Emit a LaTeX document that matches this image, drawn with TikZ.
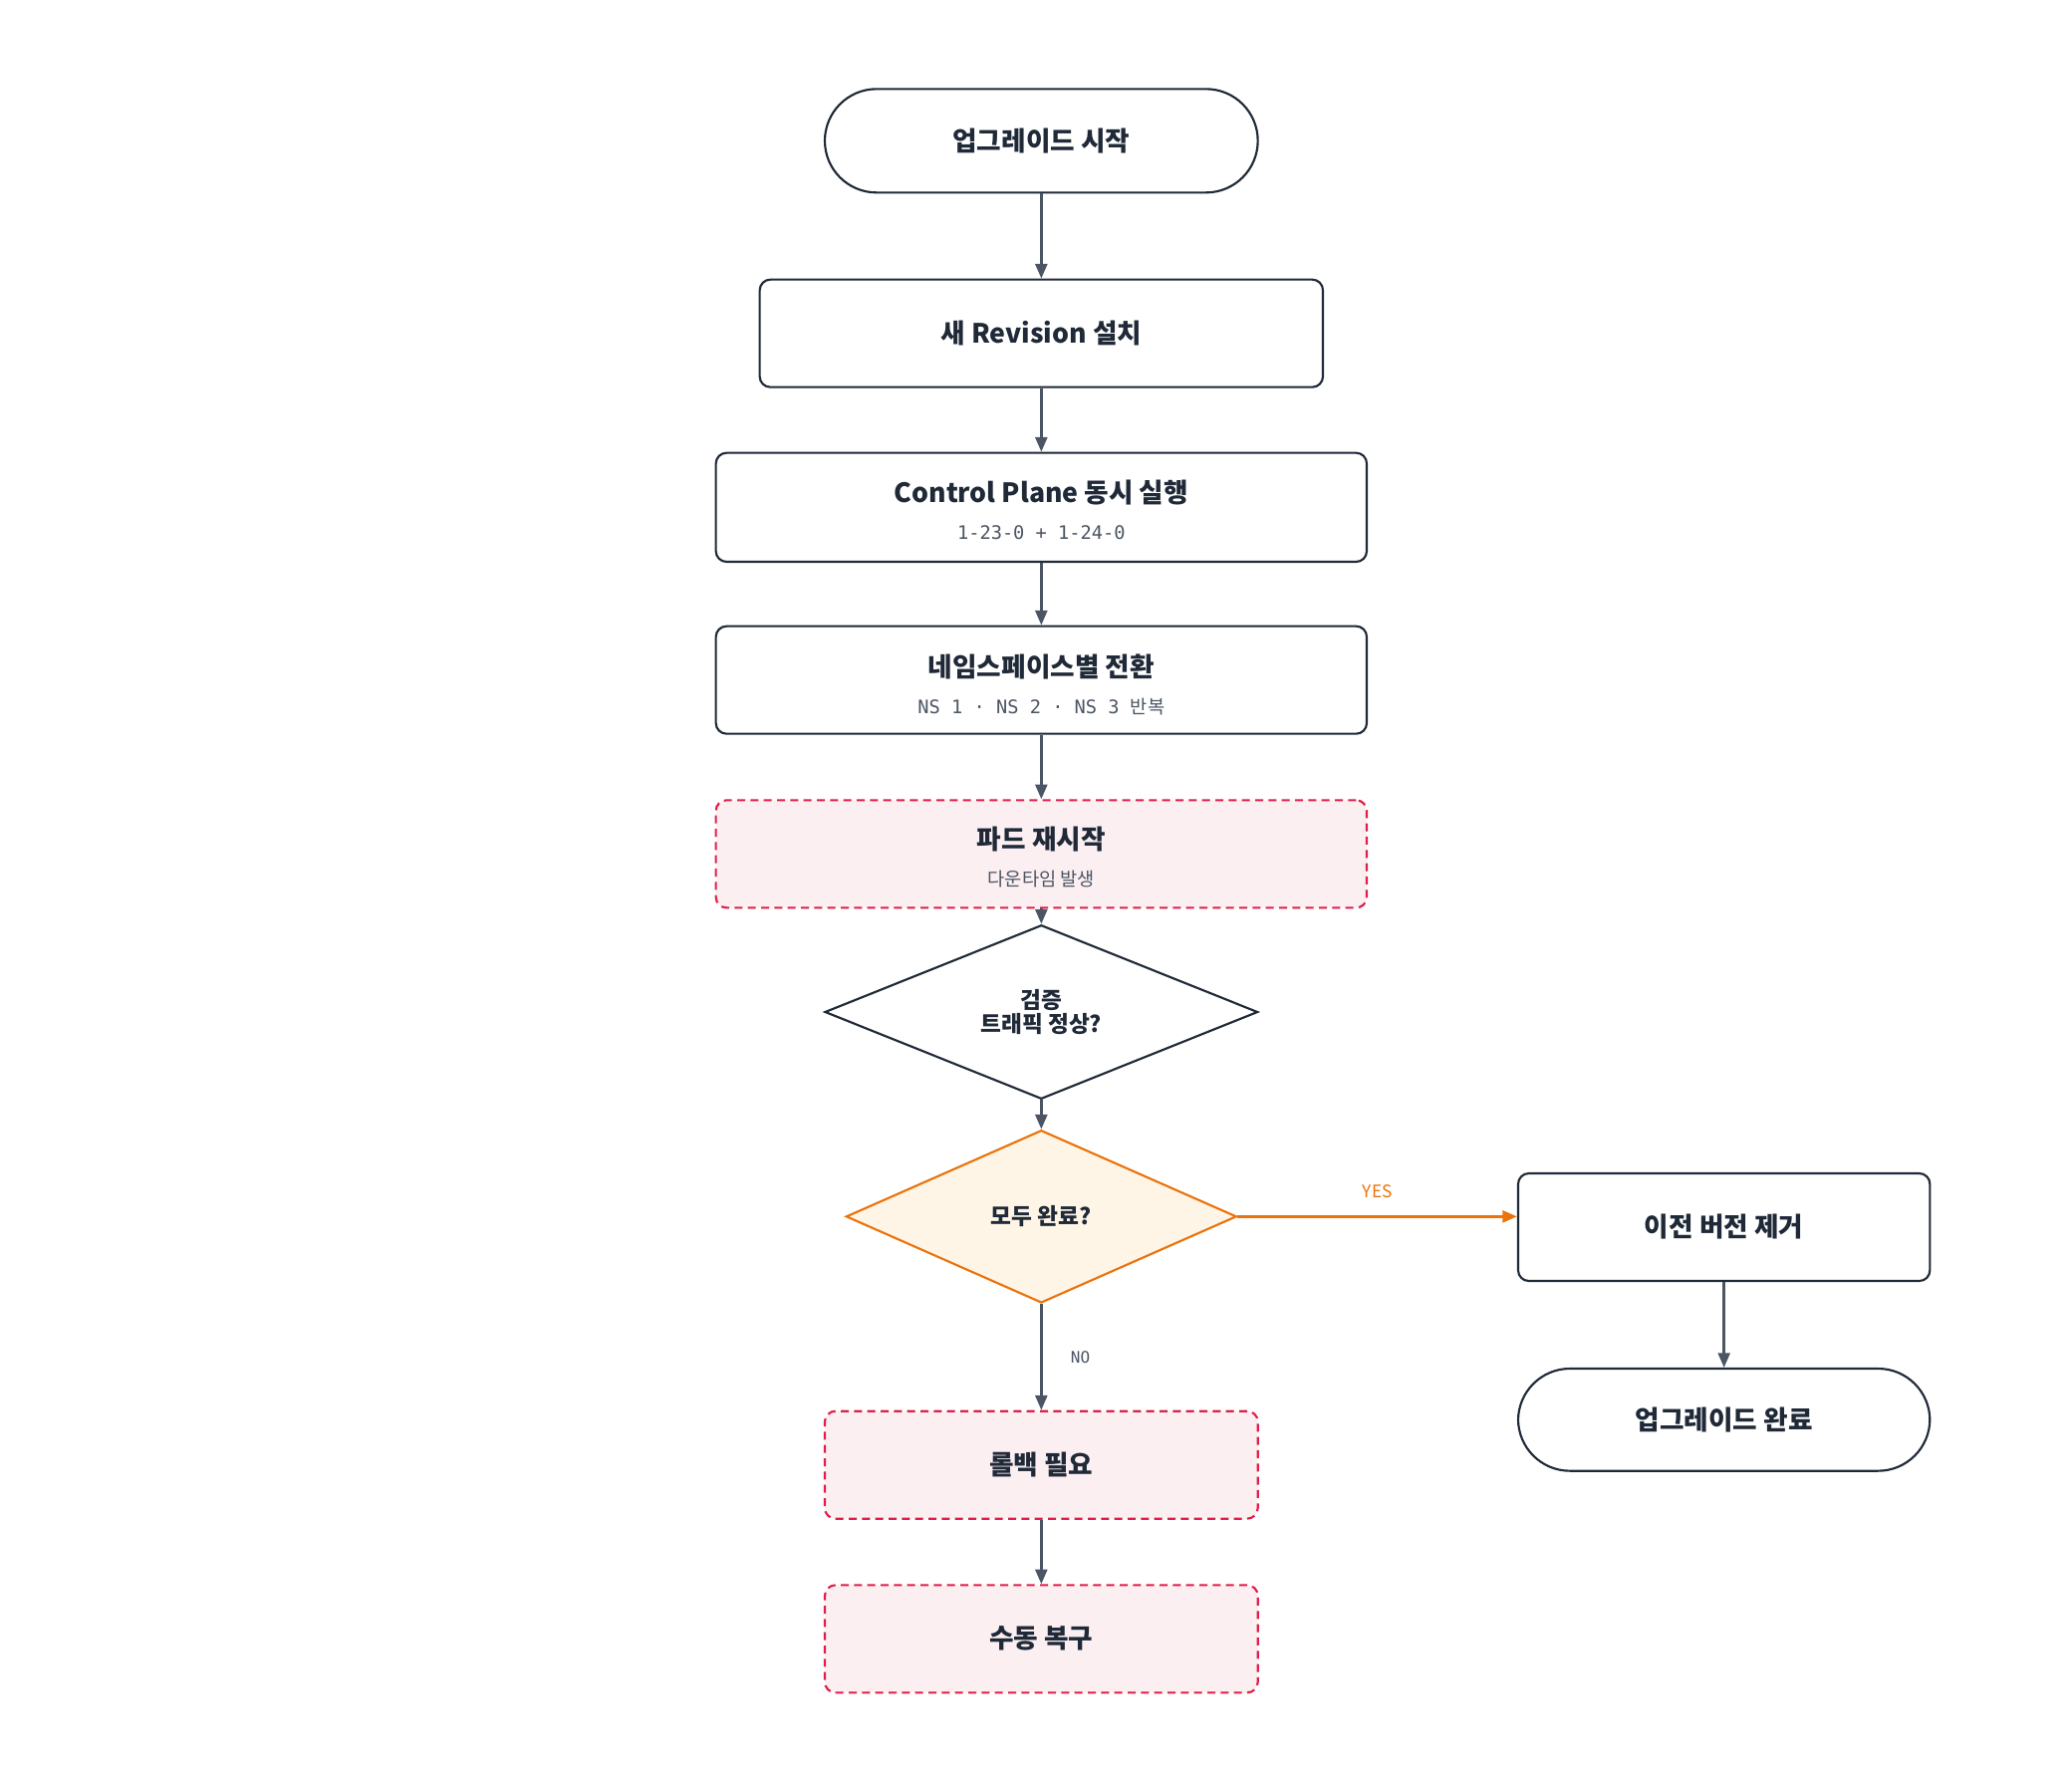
\documentclass[tikz,border=0pt]{standalone}
\usepackage{fontspec}
\setmainfont{Noto Sans CJK KR}
\newfontfamily\cjk{Noto Sans CJK KR}
\newfontfamily\monofnt{DejaVu Sans Mono}
\usetikzlibrary{shapes.geometric, arrows.meta, positioning}
\definecolor{ink}{HTML}{1F2937}
\definecolor{arrowgray}{HTML}{4B5563}
\definecolor{subgray}{HTML}{4B5563}
\definecolor{warnred}{HTML}{E11D48}
\definecolor{warnfill}{HTML}{FBEFF2}
\definecolor{decor}{HTML}{EA730C}
\definecolor{decfill}{HTML}{FEF5E6}

\tikzset{
	box/.style = {draw=ink, line width=1.6pt, rounded corners=8pt, fill=white, align=center, inner sep=0pt},
	stadium/.style = {box, rounded corners=39pt},
	warn/.style = {box, draw=warnred, fill=warnfill, dash pattern=on 6pt off 4pt},
	dec/.style = {diamond, draw=ink, line width=1.6pt, fill=white, align=center, aspect=2.5, inner sep=0pt},
	flow/.style = {-{Triangle[length=11pt,width=9pt]}, arrowgray, line width=1.8pt},
	ttl/.style = {font=\fontsize{20}{24}\selectfont\bfseries, text=ink},
	sub/.style = {font=\monofnt\fontsize{14}{17}\selectfont, text=subgray},
}

\begin{document}
\begin{tikzpicture}[x=1pt,y=-1pt]
	\useasboundingbox (0,0) rectangle (1560,1335);

	%----------------------------------------------------------------
	\node(start) [stadium, minimum width=326pt, minimum height=78pt] at (784,106) {};
	\node[ttl] at (start) {업그레이드 시작};

	\node(install) [box, minimum width=424pt, minimum height=81pt] at (784,251) {};
	\node[ttl] at (install) {새 Revision 설치};

	\node(cp) [box, minimum width=490pt, minimum height=82pt] at (784,382) {};
	\node[ttl] at (784,371) {Control Plane 동시 실행};
	\node[sub] at (784,401) {1-23-0 + 1-24-0};

	\node(ns) [box, minimum width=490pt, minimum height=81pt] at (784,512) {};
	\node[ttl] at (784,502) {네임스페이스별 전환};
	\node[sub] at (784,532) {NS 1 · NS 2 · NS 3 {\cjk 반복}};

	\node(pod) [warn, minimum width=490pt, minimum height=81pt] at (784,643) {};
	\node[ttl] at (784,632) {파드 재시작};
	\node[font=\fontsize{14}{17}\selectfont, text=subgray] at (784,662) {다운타임 발생};

	%----------------------------------------------------------------
	\node(verify) [dec, minimum width=326pt, minimum height=131pt] at (784,762) {};
	\node[font=\fontsize{17}{21}\selectfont\bfseries, text=ink, align=center] at (784,762) {검증\\[-3pt]트래픽 정상?};

	\node(done) [dec, draw=decor, fill=decfill, minimum width=294pt, minimum height=130pt] at (784,916) {};
	\node[font=\fontsize{17}{21}\selectfont\bfseries, text=ink] at (done) {모두 완료?};

	%----------------------------------------------------------------
	\node(remove) [box, minimum width=310pt, minimum height=81pt] at (1298,924) {};
	\node[ttl] at (remove) {이전 버전 제거};

	\node(finish) [stadium, minimum width=310pt, minimum height=77pt] at (1298,1069) {};
	\node[ttl] at (finish) {업그레이드 완료};

	\node(rollback) [warn, minimum width=326pt, minimum height=81pt] at (784,1103) {};
	\node[ttl] at (rollback) {롤백 필요};

	\node(manual) [warn, minimum width=326pt, minimum height=81pt] at (784,1234) {};
	\node[ttl] at (manual) {수동 복구};

	%----------------------------------------------------------------
	\draw[flow] (start) -- (install);
	\draw[flow] (install) -- (cp);
	\draw[flow] (cp) -- (ns);
	\draw[flow] (ns) -- (pod);
	\draw[flow] (pod) -- (verify);
	\draw[flow] (verify) -- (done);
	\draw[flow, decor, line width=2pt] (done.east) -- (remove.west |- done.east) node[midway, above=10pt, font=\fontsize{13}{15}\selectfont] {YES};
	\draw[flow] (done) -- (rollback) node[midway, right=18pt, font=\monofnt\fontsize{12}{14}\selectfont, text=subgray] {NO};
	\draw[flow] (rollback) -- (manual);
	\draw[flow] (remove) -- (finish);
\end{tikzpicture}
\end{document}
